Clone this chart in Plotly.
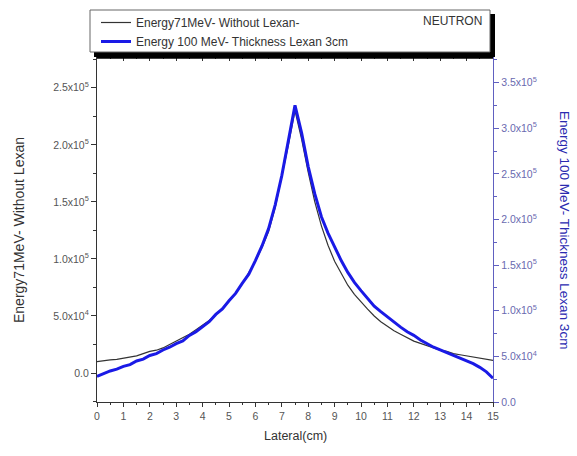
import plotly.graph_objects as go

# Lateral positions (cm)
lateral = [i * 0.25 for i in range(61)]

# Energy 71 MeV - without Lexan (left axis)
black_vals = [0.10, 0.11, 0.115, 0.12, 0.13, 0.14, 0.15, 0.17, 0.19, 0.20, 0.22, 0.25, 0.28,
              0.31, 0.34, 0.38, 0.42, 0.46, 0.51, 0.57, 0.63, 0.70, 0.78, 0.88, 0.98, 1.10,
              1.24, 1.45, 1.72, 2.00, 2.30, 2.05, 1.76, 1.50, 1.29, 1.12, 0.98, 0.87, 0.77,
              0.69, 0.62, 0.56, 0.50, 0.45, 0.41, 0.37, 0.34, 0.31, 0.28, 0.26, 0.24, 0.22,
              0.20, 0.19, 0.17, 0.16, 0.15, 0.14, 0.13, 0.12, 0.11]
black = [v * 1e5 for v in black_vals]

# Energy 100 MeV - thickness Lexan 3cm (right axis)
blue_vals = [0.28, 0.31, 0.34, 0.36, 0.39, 0.41, 0.45, 0.47, 0.51, 0.53, 0.57, 0.60, 0.64,
             0.67, 0.73, 0.77, 0.83, 0.88, 0.96, 1.02, 1.11, 1.19, 1.30, 1.40, 1.55, 1.71,
             1.90, 2.16, 2.48, 2.85, 3.25, 2.95, 2.58, 2.28, 2.03, 1.85, 1.69, 1.55, 1.42,
             1.31, 1.22, 1.13, 1.05, 0.99, 0.93, 0.87, 0.82, 0.77, 0.73, 0.68, 0.64, 0.60,
             0.57, 0.54, 0.51, 0.48, 0.45, 0.42, 0.38, 0.33, 0.26]
blue = [v * 1e5 for v in blue_vals]

x_ticks = list(range(16))
left_tickvals = [0, 0.5e5, 1.0e5, 1.5e5, 2.0e5, 2.5e5]
left_ticktext = ["0.0", "5.0x10<sup>4</sup>", "1.0x10<sup>5</sup>", "1.5x10<sup>5</sup>",
                 "2.0x10<sup>5</sup>", "2.5x10<sup>5</sup>"]
right_tickvals = [0, 0.5e5, 1.0e5, 1.5e5, 2.0e5, 2.5e5, 3.0e5, 3.5e5]
right_ticktext = ["0.0", "5.0x10<sup>4</sup>", "1.0x10<sup>5</sup>", "1.5x10<sup>5</sup>",
                  "2.0x10<sup>5</sup>", "2.5x10<sup>5</sup>", "3.0x10<sup>5</sup>",
                  "3.5x10<sup>5</sup>"]

FONT = "Liberation Sans, Arial, sans-serif"
BLUE = "#1a1ae6"

fig = go.Figure()
fig.add_trace(go.Scatter(x=lateral, y=black, mode="lines",
                         line=dict(color="#333333", width=1.2),
                         name="Energy71MeV- Without Lexan-", yaxis="y"))
fig.add_trace(go.Scatter(x=lateral, y=blue, mode="lines",
                         line=dict(color=BLUE, width=3),
                         name="Energy 100 MeV- Thickness Lexan 3cm", yaxis="y2"))
fig.add_trace(go.Scatter(x=[None], y=[None], xaxis="x2", yaxis="y",
                         showlegend=False, hoverinfo="skip"))

W, H = 577, 456
L, R, T, B = 97, 84, 57, 54
pw = W - L - R
ph = H - T - B


def px(xp):
    return (xp - L) / pw


def py(yp):
    return (H - B - yp) / ph


fig.update_layout(
    width=W, height=H,
    margin=dict(l=L, r=R, t=T, b=B, autoexpand=False),
    paper_bgcolor="white", plot_bgcolor="white",
    font=dict(family=FONT, size=10, color="#555555"),
    showlegend=True,
    legend=dict(x=px(96), y=py(8), xanchor="left", yanchor="top",
                bgcolor="rgba(0,0,0,0)", borderwidth=0,
                font=dict(family=FONT, size=12, color="#333333"),
                tracegroupgap=0, itemwidth=30),
    xaxis=dict(range=[0, 15], tickvals=x_ticks, ticks="outside", ticklen=4,
               tickcolor="#333", showline=True, linecolor="#333", linewidth=1.2,
               showgrid=False, zeroline=False,
               minor=dict(dtick=0.5, ticks="outside", ticklen=2, tickcolor="#333"),
               tickfont=dict(size=10.5, color="#555")),
    xaxis2=dict(range=[0, 15], overlaying="x", side="top", anchor="y",
                tickvals=x_ticks, ticks="inside", ticklen=4, tickcolor="#333",
                showticklabels=False, showline=False, showgrid=False, zeroline=False,
                minor=dict(dtick=0.5, ticks="inside", ticklen=2, tickcolor="#333")),
    yaxis=dict(range=[-0.254e5, 2.77e5], tickvals=left_tickvals, ticktext=left_ticktext,
               ticks="outside", ticklen=5, tickcolor="#333", showline=True,
               linecolor="#333", linewidth=1.2, showgrid=False, zeroline=False,
               minor=dict(dtick=0.25e5, ticks="outside", ticklen=3, tickcolor="#333"),
               tickfont=dict(size=10.5, color="#555")),
    yaxis2=dict(range=[0, 3.78e5], overlaying="y", side="right", anchor="x",
                tickvals=right_tickvals, ticktext=right_ticktext,
                ticks="outside", ticklen=5, tickcolor="#6060c0", showline=True,
                linecolor="#6060c0", linewidth=1.2, showgrid=False, zeroline=False,
                minor=dict(dtick=0.25e5, ticks="outside", ticklen=3, tickcolor="#6060c0"),
                tickfont=dict(size=10.5, color="#6a6ab0")),
    shapes=[
        # legend shadow
        dict(type="rect", xref="paper", yref="paper", x0=px(94), x1=px(495),
             y0=py(57), y1=py(14), fillcolor="black", line=dict(width=0), layer="below"),
        # legend box
        dict(type="rect", xref="paper", yref="paper", x0=px(90), x1=px(490),
             y0=py(52), y1=py(10), fillcolor="white", line=dict(color="#666", width=1),
             layer="below"),
        # thick top frame
        dict(type="line", xref="paper", yref="paper", x0=0, x1=1, y0=1, y1=1,
             line=dict(color="black", width=3.5)),
    ],
    annotations=[
        dict(text="NEUTRON", xref="paper", yref="paper", x=px(484), y=py(21),
             xanchor="right", yanchor="middle", showarrow=False,
             font=dict(family=FONT, size=12, color="#333")),
        dict(text="Lateral(cm)", xref="paper", yref="paper", x=px(295), y=py(436),
             xanchor="center", yanchor="middle", showarrow=False,
             font=dict(family=FONT, size=12.5, color="#333")),
        dict(text="Energy71MeV- Without Lexan", xref="paper", yref="paper",
             x=px(19), y=py(230), xanchor="center", yanchor="middle", textangle=-90,
             showarrow=False, font=dict(family=FONT, size=14, color="#333")),
        dict(text="Energy 100 MeV- Thickness Lexan 3cm", xref="paper", yref="paper",
             x=px(564), y=py(230), xanchor="center", yanchor="middle", textangle=90,
             showarrow=False, font=dict(family=FONT, size=13.5, color="#2a2ab0")),
    ],
)

fig.write_html("out.html", config={"displayModeBar": False},
               post_script="document.body.style.margin='0';document.body.style.overflow='hidden';")
